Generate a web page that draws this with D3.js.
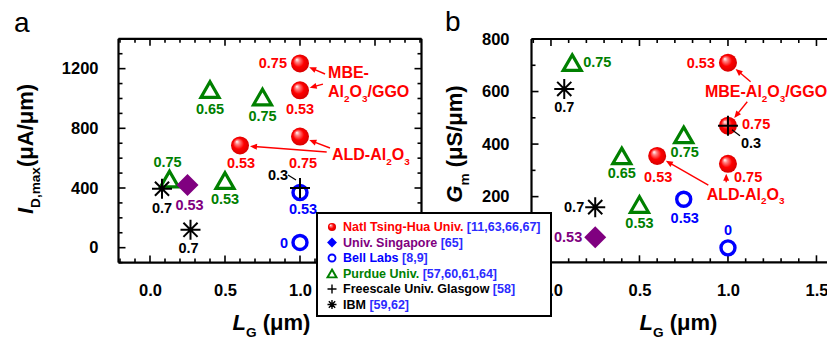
<!DOCTYPE html>
<html><head><meta charset="utf-8">
<script src="https://cdn.jsdelivr.net/npm/d3@7"></script>
<style>body{margin:0;background:#fff;} svg{display:block;font-family:"Liberation Sans",Arial,sans-serif;}</style>
</head><body><svg id="c" width="827" height="342"></svg>
<script>
// ===== DATA: panel a  (L_G in µm, I_D,max in µA/µm, label = In content) =====
const tsingHuaLgA = [1.0, 1.0, 1.0, 0.6];
const tsingHuaIdA = [1235, 1055, 745, 685];
const tsingHuaLblA = ["0.75", "0.53", "0.75", "0.53"];
const singaporeLgA = [0.25];
const singaporeIdA = [420];
const singaporeLblA = ["0.53"];
const bellLgA = [1.0, 1.0];
const bellIdA = [370, 35];
const bellLblA = ["0.53", "0"];
const purdueLgA = [0.4, 0.75, 0.13, 0.5];
const purdueIdA = [1060, 1010, 460, 450];
const purdueLblA = ["0.65", "0.75", "0.75", "0.53"];
const freescaleLgA = [1.0];
const freescaleIdA = [400];
const freescaleLblA = ["0.3"];
const ibmLgA = [0.08, 0.27];
const ibmIdA = [395, 120];
const ibmLblA = ["0.7", "0.7"];

// ===== DATA: panel b  (L_G in µm, G_m in µS/µm) =====
const tsingHuaLgB = [1.0, 1.0, 1.0, 0.6];
const tsingHuaGmB = [710, 470, 325, 355];
const tsingHuaLblB = ["0.53", "0.75", "0.75", "0.53"];
const singaporeLgB = [0.25];
const singaporeGmB = [45];
const singaporeLblB = ["0.53"];
const bellLgB = [0.75, 1.0];
const bellGmB = [190, 5];
const bellLblB = ["0.53", "0"];
const purdueLgB = [0.12, 0.4, 0.75, 0.5];
const purdueGmB = [710, 355, 435, 170];
const purdueLblB = ["0.75", "0.65", "0.75", "0.53"];
const freescaleLgB = [1.0];
const freescaleGmB = [470];
const freescaleLblB = ["0.3"];
const ibmLgB = [0.075, 0.25];
const ibmGmB = [610, 160];
const ibmLblB = ["0.7", "0.7"];

// ===== tick values (labels hidden under the legend in the original are left out) =====
const xMajorTicks = [0, 0.5, 1.0, 1.5];
const xLabelTicksA = [0, 0.5, 1.0];
const xLabelTicksB = [0, 0.5, 1.0, 1.5];
const yMajorTicksA = [0, 400, 800, 1200];
const yMajorTicksB = [0, 200, 400, 600, 800];
const yLabelTicksA = [0, 400, 800, 1200];
const yLabelTicksB = [200, 400, 600, 800];

// legend
const legendNames = ["Natl Tsing-Hua Univ.", "Univ. Singapore", "Bell Labs", "Purdue Univ.", "Freescale Univ. Glasgow", "IBM"];
const legendRefs = ["[11,63,66,67]", "[65]", "[8,9]", "[57,60,61,64]", "[58]", "[59,62]"];

// ===== styles / layout =====
const RED = "#ff0000", PURPLE = "#800080", BLUE = "#0000ff", GREEN = "#008000", BLACK = "#000", REFBLUE = "#2b2bff";
const svg = d3.select("#c");
const defs = svg.append("defs");
const grad = defs.append("radialGradient").attr("id", "sph").attr("cx", "50%").attr("cy", "50%").attr("r", "55%").attr("fx", "32%").attr("fy", "28%");
grad.append("stop").attr("offset", "0%").attr("stop-color", "#ffffff");
grad.append("stop").attr("offset", "22%").attr("stop-color", "#ff8080");
grad.append("stop").attr("offset", "55%").attr("stop-color", "#ff0000");
grad.append("stop").attr("offset", "100%").attr("stop-color", "#d00000");

const xa = d3.scaleLinear().domain([-0.21, 1.81]).range([118.5, 421.5]);
const ya = d3.scaleLinear().domain([-100, 1400]).range([262.6, 38.8]);
const xb = d3.scaleLinear().domain([-0.11, 1.62]).range([531.5, 531.5 + 1.73 * 177]);
const yb = d3.scaleLinear().domain([-50, 800]).range([262.3, 39]);

function rangeStep(a, b, s) { const out = []; for (let v = a; v <= b + 1e-9; v += s) out.push(+v.toFixed(3)); return out; }

function drawFrame(g, x, y, yMajor, yMinorStep, yPad, clipRight, xLabels, yLabels) {
  const [x0, x1] = x.range(), [y0, y1] = y.range();
  const xr = Math.min(x1, clipRight);
  const xMinor = rangeStep(Math.ceil(x.domain()[0] * 10) / 10, x.domain()[1], 0.1);
  const yMinor = rangeStep(Math.ceil(y.domain()[0] / yMinorStep) * yMinorStep, y.domain()[1], yMinorStep);
  const t = g.append("g").attr("stroke", "#000").attr("stroke-width", 1.6);
  const isMajX = v => xMajorTicks.some(m => Math.abs(m - v) < 1e-6);
  const isMajY = v => yMajor.some(m => Math.abs(m - v) < 1e-6);
  xMinor.forEach(v => {
    const L = isMajX(v) ? 7 : 4, px = x(v);
    t.append("line").attr("x1", px).attr("x2", px).attr("y1", y0).attr("y2", y0 - L);
    t.append("line").attr("x1", px).attr("x2", px).attr("y1", y1).attr("y2", y1 + L);
  });
  yMinor.forEach(v => {
    const L = isMajY(v) ? 7 : 4, py = y(v);
    t.append("line").attr("x1", x0).attr("x2", x0 + L).attr("y1", py).attr("y2", py);
    if (x1 <= clipRight) t.append("line").attr("x1", x1).attr("x2", x1 - L).attr("y1", py).attr("y2", py);
  });
  const b = g.append("g").attr("stroke", "#000").attr("stroke-width", 2.2).attr("fill", "none");
  b.append("line").attr("x1", x0).attr("x2", xr).attr("y1", y0).attr("y2", y0);
  b.append("line").attr("x1", x0).attr("x2", xr).attr("y1", y1).attr("y2", y1);
  b.append("line").attr("x1", x0).attr("x2", x0).attr("y1", y0).attr("y2", y1);
  if (x1 <= clipRight) b.append("line").attr("x1", x1).attr("x2", x1).attr("y1", y0).attr("y2", y1);
  const ax = g.append("g").attr("transform", `translate(0,${y0})`)
    .call(d3.axisBottom(x).tickValues(xLabels).tickFormat(d3.format(".1f")).tickSize(0).tickPadding(22));
  const ay = g.append("g").attr("transform", `translate(${x0},0)`)
    .call(d3.axisLeft(y).tickValues(yLabels).tickFormat(d3.format("d")).tickSize(0).tickPadding(yPad));
  [ax, ay].forEach(a => {
    a.select(".domain").remove();
    a.selectAll("text").attr("font-size", 16.5).attr("font-weight", "bold").attr("fill", "#000").attr("font-family", "Liberation Sans, Arial, sans-serif");
  });
}

function marker(g, kind, cx, cy, s) {
  s = s || 1;
  if (kind === "sphere") {
    g.append("circle").attr("cx", cx).attr("cy", cy).attr("r", 9 * s).attr("fill", "url(#sph)");
  } else if (kind === "diamond") {
    const h = 11 * s;
    g.append("path").attr("d", `M${cx},${cy - h}L${cx + h},${cy}L${cx},${cy + h}L${cx - h},${cy}Z`).attr("fill", s < 1 ? BLUE : PURPLE);
  } else if (kind === "circle") {
    g.append("circle").attr("cx", cx).attr("cy", cy).attr("r", 7 * s).attr("fill", "none").attr("stroke", BLUE).attr("stroke-width", 3.4 * Math.max(s, 0.55));
  } else if (kind === "triangle") {
    const w = 9 * s, h = 7.8 * s;
    g.append("path").attr("d", `M${cx},${cy - h}L${cx + w},${cy + h}L${cx - w},${cy + h}Z`).attr("fill", "none").attr("stroke", GREEN).attr("stroke-width", 3.2 * Math.max(s, 0.6)).attr("stroke-linejoin", "miter");
  } else if (kind === "plus") {
    const r = 10 * s;
    g.append("path").attr("d", `M${cx - r},${cy}H${cx + r}M${cx},${cy - r}V${cy + r}`).attr("stroke", BLACK).attr("stroke-width", 2 * Math.max(s, 0.7));
  } else if (kind === "asterisk") {
    const r = 10 * s, d = r * Math.SQRT1_2;
    g.append("path").attr("d", `M${cx - r},${cy}H${cx + r}M${cx},${cy - r}V${cy + r}M${cx - d},${cy - d}L${cx + d},${cy + d}M${cx - d},${cy + d}L${cx + d},${cy - d}`).attr("stroke", BLACK).attr("stroke-width", 2 * Math.max(s, 0.7));
  }
}

function series(g, x, y, xs, ys, labels, kind, color, offs) {
  xs.forEach((v, i) => {
    const cx = x(v), cy = y(ys[i]);
    marker(g, kind, cx, cy);
    const o = offs[i];
    g.append("text").attr("x", cx + o[0]).attr("y", cy + o[1]).attr("dy", "0.35em")
      .attr("text-anchor", o[2] || "middle").attr("font-size", 14.5).attr("font-weight", "bold").attr("fill", color).text(labels[i]);
  });
}

function arrow(g, x1, y1, x2, y2, shorten) {
  const dx = x2 - x1, dy = y2 - y1, len = Math.hypot(dx, dy);
  const ux = dx / len, uy = dy / len;
  const ex = x2 - ux * shorten, ey = y2 - uy * shorten;
  const ah = 7, aw = 3;
  g.append("line").attr("x1", x1).attr("y1", y1).attr("x2", ex - ux * ah * 0.6).attr("y2", ey - uy * ah * 0.6).attr("stroke", RED).attr("stroke-width", 1.4);
  g.append("path").attr("d", `M${ex},${ey}L${ex - ux * ah - uy * aw},${ey - uy * ah + ux * aw}L${ex - ux * ah + uy * aw},${ey - uy * ah - ux * aw}Z`).attr("fill", RED);
}

function richText(g, px, py, segs, size, color, anchor) {
  const t = g.append("text").attr("x", px).attr("y", py).attr("font-size", size).attr("font-weight", "bold").attr("fill", color).attr("text-anchor", anchor || "start");
  let shifted = 0;
  segs.forEach(s => {
    const ts = t.append("tspan").text(s[0]);
    const want = s[1] ? size * 0.3 : 0;
    if (want !== shifted) { ts.attr("dy", want - shifted); shifted = want; }
    if (s[1]) ts.attr("font-size", size * 0.62);
    if (s[2]) ts.attr("font-style", "italic");
  });
  return t;
}

// ================= PANEL A =================
const ga = svg.append("g");
drawFrame(ga, xa, ya, yMajorTicksA, 100, 20, 9999, xLabelTicksA, yLabelTicksA);
series(ga, xa, ya, purdueLgA, purdueIdA, purdueLblA, "triangle", GREEN, [[0, 19], [0, 19], [-2, -17], [0, 18]]);
series(ga, xa, ya, bellLgA, bellIdA, bellLblA, "circle", BLUE, [[3, 16], [-12, 0, "end"]]);
series(ga, xa, ya, singaporeLgA, singaporeIdA, singaporeLblA, "diamond", PURPLE, [[2, 20]]);
series(ga, xa, ya, ibmLgA, ibmIdA, ibmLblA, "asterisk", BLACK, [[0, 19], [-2, 18]]);
series(ga, xa, ya, tsingHuaLgA, tsingHuaIdA, tsingHuaLblA, "sphere", RED, [[-13, 0, "end"], [0, 19], [3, 26], [1, 17]]);
series(ga, xa, ya, freescaleLgA, freescaleIdA, freescaleLblA, "plus", BLACK, [[-22, -13]]);
ga.append("line").attr("x1", xa(freescaleLgA[0]) - 12).attr("y1", ya(freescaleIdA[0]) - 13).attr("x2", xa(freescaleLgA[0]) - 4).attr("y2", ya(freescaleIdA[0]) - 8).attr("stroke", "#000").attr("stroke-width", 1.2);
richText(ga, xa(1.187), ya(1137), [["MBE-"]], 16, RED);
richText(ga, xa(1.187), ya(1010), [["Al"], ["2", 1], ["O"], ["3", 1], ["/GGO"]], 16, RED);
richText(ga, xa(1.213), ya(588), [["ALD-Al"], ["2", 1], ["O"], ["3", 1]], 16, RED);
arrow(ga, xa(1.167), ya(1164), xa(tsingHuaLgA[0]), ya(tsingHuaIdA[0]), 10);
arrow(ga, xa(1.153), ya(1096), xa(tsingHuaLgA[1]), ya(tsingHuaIdA[1]), 10);
arrow(ga, xa(1.2), ya(668), xa(tsingHuaLgA[2]), ya(tsingHuaIdA[2]), 10);
arrow(ga, xa(1.178), ya(641), xa(tsingHuaLgA[3]), ya(tsingHuaIdA[3]), 10);

// ================= PANEL B =================
const gb = svg.append("g");
drawFrame(gb, xb, yb, yMajorTicksB, 100, 22, 827, xLabelTicksB, yLabelTicksB);
series(gb, xb, yb, purdueLgB, purdueGmB, purdueLblB, "triangle", GREEN, [[11, -1, "start"], [0, 17], [1, 17], [0, 18]]);
series(gb, xb, yb, bellLgB, bellGmB, bellLblB, "circle", BLUE, [[1, 19], [0, -18]]);
series(gb, xb, yb, singaporeLgB, singaporeGmB, singaporeLblB, "diamond", PURPLE, [[-13, 0, "end"]]);
series(gb, xb, yb, ibmLgB, ibmGmB, ibmLblB, "asterisk", BLACK, [[0, 18], [-11, 0, "end"]]);
series(gb, xb, yb, tsingHuaLgB, tsingHuaGmB, tsingHuaLblB, "sphere", RED, [[-13, 0, "end"], [14, -2, "start"], [6, 13, "start"], [1, 21]]);
series(gb, xb, yb, freescaleLgB, freescaleGmB, freescaleLblB, "plus", BLACK, [[13, 17, "start"]]);
gb.append("line").attr("x1", xb(freescaleLgB[0]) + 4).attr("y1", yb(freescaleGmB[0]) + 4).attr("x2", xb(freescaleLgB[0]) + 12).attr("y2", yb(freescaleGmB[0]) + 10).attr("stroke", "#000").attr("stroke-width", 1.2);
richText(gb, xb(0.87), yb(579), [["MBE-Al"], ["2", 1], ["O"], ["3", 1], ["/GGO"]], 16, RED);
richText(gb, xb(0.88), yb(189), [["ALD-Al"], ["2", 1], ["O"], ["3", 1]], 16, RED);
arrow(gb, xb(1.128), yb(637), xb(tsingHuaLgB[0]), yb(tsingHuaGmB[0]), 10);
arrow(gb, xb(1.109), yb(561), xb(tsingHuaLgB[1]), yb(tsingHuaGmB[1]), 10);
arrow(gb, xb(0.889), yb(244), xb(tsingHuaLgB[3]), yb(tsingHuaGmB[3]), 10);
arrow(gb, xb(0.99), yb(255), xb(0.99), yb(tsingHuaGmB[2]), 10);

// ================= titles =================
richText(svg, xa(0.81), 330, [["L", 0, 1], ["G", 1], [" (μm)"]], 22, "#000", "middle");
richText(svg, xb(0.72), 330, [["L", 0, 1], ["G", 1], [" (μm)"]], 22, "#000", "middle");
richText(svg.append("g").attr("transform", "translate(33,149) rotate(-90)"), 0, 0, [["I", 0, 1], ["D,max", 1], ["(μA/μm)"]], 22, "#000", "middle");
richText(svg.append("g").attr("transform", "translate(462,144) rotate(-90)"), 0, 0, [["G", 0, 1], ["m", 1], [" (μS/μm)"]], 22, "#000", "middle");
svg.append("text").attr("x", 14).attr("y", 32).attr("font-size", 28).attr("fill", "#000").text("a");
svg.append("text").attr("x", 445).attr("y", 31).attr("font-size", 28).attr("fill", "#000").text("b");

// ================= legend =================
const lg = svg.append("g");
lg.append("rect").attr("x", 317).attr("y", 213).attr("width", 234).attr("height", 103).attr("fill", "#fff").attr("stroke", "#000").attr("stroke-width", 2);
const legKinds = ["sphere", "diamond", "circle", "triangle", "plus", "asterisk"];
const legColors = [RED, PURPLE, BLUE, GREEN, BLACK, BLACK];
const legScale = [0.45, 0.45, 0.5, 0.5, 0.45, 0.45];
legendNames.forEach((n, i) => {
  const cy = 227 + i * 15.5;
  marker(lg, legKinds[i], 332, cy, legScale[i]);
  const t = lg.append("text").attr("x", 343).attr("y", cy).attr("dy", "0.35em").attr("font-size", 12.5).attr("font-weight", "bold");
  t.append("tspan").attr("fill", legColors[i]).text(n + " ");
  t.append("tspan").attr("fill", REFBLUE).text(legendRefs[i]);
});
</script></body></html>
